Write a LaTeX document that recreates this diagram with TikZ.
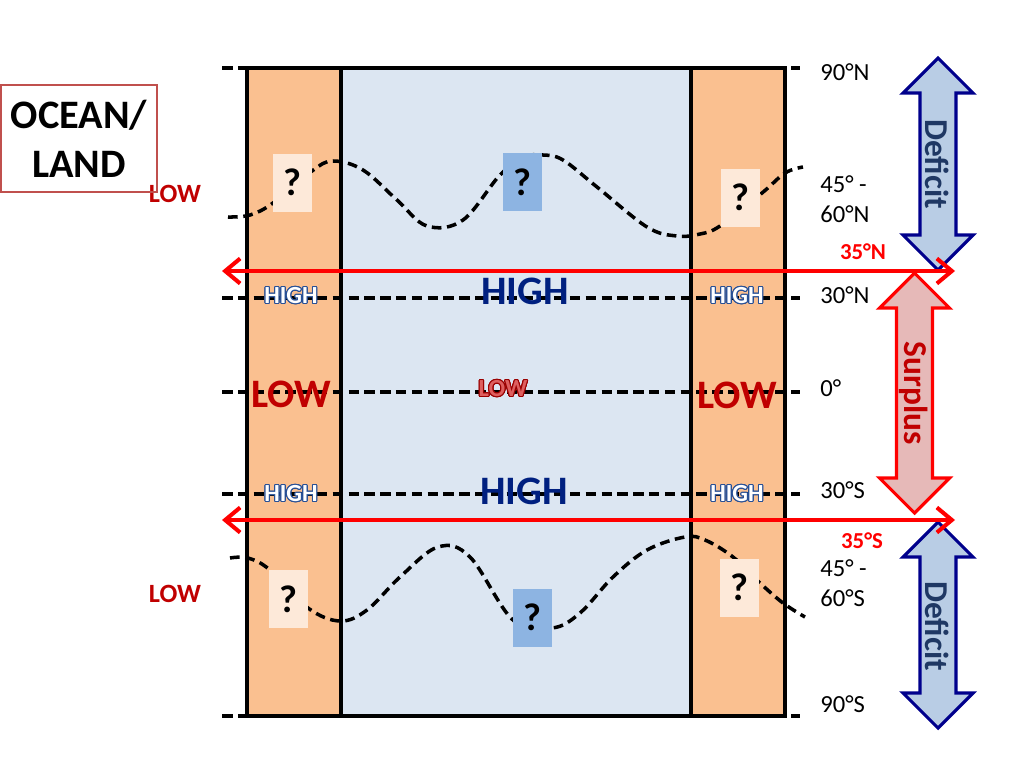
\documentclass[tikz,border=0pt]{standalone}
\usepackage{fontspec}
\setmainfont{Carlito}
\usepackage{contour}
\contourlength{0.6pt}
\usetikzlibrary{arrows.meta}

\definecolor{landfill}{RGB}{250,192,144}
\definecolor{oceanfill}{RGB}{220,230,242}
\definecolor{peachbox}{RGB}{253,233,217}
\definecolor{bluebox}{RGB}{141,180,226}
\definecolor{lowred}{RGB}{192,0,0}
\definecolor{lowpink}{RGB}{222,95,95}
\definecolor{highblue}{RGB}{0,32,128}
\definecolor{highrim}{RGB}{40,80,150}
\definecolor{deffill}{RGB}{185,205,229}
\definecolor{defline}{RGB}{0,0,140}
\definecolor{deftext}{RGB}{31,56,100}
\definecolor{surfill}{RGB}{230,185,184}
\definecolor{surline}{RGB}{255,0,0}
\definecolor{titleline}{RGB}{192,80,77}

\tikzset{
	latline/.style={black, line width=2.1pt, dash pattern=on 6pt off 3pt},
	wave/.style={black, line width=2pt, dash pattern=on 5.5pt off 3.2pt},
	qbox/.style={inner sep=0pt, minimum width=0.78cm, minimum height=1.16cm, font=\fontsize{22}{24}\selectfont\bfseries},
	latlabel/.style={anchor=west, inner sep=0pt, align=left, font=\fontsize{14}{17}\selectfont},
	zonearrow/.style={red, line width=2.3pt, <->, >={Straight Barb[length=3mm,width=5mm]}},
	budget/.style={line width=1.8pt, line join=miter},
	budgettext/.style={rotate=-90, inner sep=0pt, font=\fontsize{19}{21}\selectfont\bfseries},
	smallhigh/.style={text=white, inner sep=0pt, font=\fontsize{14}{16}\selectfont\bfseries},
	bighigh/.style={text=highblue, inner sep=0pt, font=\fontsize{23}{25}\selectfont\bfseries},
	biglow/.style={text=lowred, inner sep=0pt, font=\fontsize{23}{25}\selectfont\bfseries},
	sidelow/.style={text=lowred, inner sep=0pt, font=\fontsize{15}{17}\selectfont\bfseries},
}

\begin{document}
\begin{tikzpicture}[x=0.02cm, y=-0.02cm]
	\useasboundingbox (0,0) rectangle (1024,768);
	
	% land / ocean / land
	\fill[landfill] (247,68) rectangle (341,716);
	\fill[oceanfill] (341,68) rectangle (691,716);
	\fill[landfill] (691,68) rectangle (785,716);
	
	\foreach \yy in {68,298,392,494,716}{
		\draw[latline] (222,\yy) -- (800,\yy);
	}
	
	% polar front, north and south
	\draw[wave] plot[smooth, tension=0.6] coordinates {(228,217) (250,215) (273,203) (312,171) (333,161) (363,170) (397,200) (427,226) (463,220) (500,175) (525,157) (543,155) (563,160) (597,187) (647,227) (677,236) (700,234) (720,226) (762,193) (785,173) (803,167)};
	\draw[wave] plot[smooth, tension=0.6] coordinates {(230,558) (248,558) (270,570) (308,608) (340,621) (367,610) (400,577) (438,547) (470,557) (513,620) (552,628) (580,613) (613,577) (647,550) (685,537) (705,540) (733,557) (760,583) (783,603) (805,617)};
	
	\node[qbox, fill=peachbox] (qnw) at (292.5,182.5) {?};
	\node[qbox, fill=bluebox] (qnc) at (522.5,182) {?};
	\node[qbox, fill=peachbox] (qne) at (740.5,197.5) {?};
	\node[qbox, fill=peachbox] (qsw) at (288,599) {?};
	\node[qbox, fill=bluebox] (qsc) at (532,617.5) {?};
	\node[qbox, fill=peachbox] (qse) at (739.5,587.5) {?};
	
	\draw[line width=2pt] (247,68) rectangle (785,716);
	\draw[line width=2pt] (341,68) -- (341,716);
	\draw[line width=2pt] (691,68) -- (691,716);
	
	% pressure belts
	\node[smallhigh] (hnw) at (291,296) {\contour{highrim}{HIGH}};
	\node[bighigh] (hnc) at (525,291) {HIGH};
	\node[smallhigh] (hne) at (737,296) {\contour{highrim}{HIGH}};
	\node[biglow] (lw) at (291,394) {LOW};
	\node[text=lowpink, inner sep=0pt, font=\fontsize{14}{16}\selectfont\bfseries] (lc) at (503,389) {\contour{lowred!80!black}{LOW}};
	\node[biglow] (le) at (737,395) {LOW};
	\node[smallhigh] (hsw) at (291,494) {\contour{highrim}{HIGH}};
	\node[bighigh] (hsc) at (524,491) {HIGH};
	\node[smallhigh] (hse) at (737,494) {\contour{highrim}{HIGH}};
	\node[sidelow] (lnx) at (175,194) {LOW};
	\node[sidelow] (lsx) at (175,594) {LOW};
	
	% latitudes
	\node[latlabel] (l90n) at (820,72) {90°N};
	\node[latlabel] (l45n) at (820,199) {45° -\\60°N};
	\node[latlabel] (l30n) at (820,295) {30°N};
	\node[latlabel] (l0) at (820,388) {0°};
	\node[latlabel] (l30s) at (820,490) {30°S};
	\node[latlabel] (l45s) at (820,583) {45° -\\60°S};
	\node[latlabel] (l90s) at (820,704) {90°S};
	
	% energy budget arrows
	\foreach \cx/\ta/\tb/\fc/\dc in {938/58/270/deffill/defline, 914.5/273/513/surfill/surline, 938/522/728/deffill/defline}{
		\filldraw[budget, fill=\fc, draw=\dc] (\cx,\ta) -- (\cx+35,\ta+35) -- (\cx+18,\ta+35) -- (\cx+18,\tb-35) -- (\cx+35,\tb-35) -- (\cx,\tb) -- (\cx-35,\tb-35) -- (\cx-18,\tb-35) -- (\cx-18,\ta+35) -- (\cx-35,\ta+35) -- cycle;
	}
	\node[budgettext, text=deftext] (defn) at (937,164) {Deficit};
	\node[budgettext, text=lowred] (surp) at (914,393) {Surplus};
	\node[budgettext, text=deftext] (defs) at (937,626) {Deficit};
	
	% 35 degree boundaries
	\draw[zonearrow] (222,271) -- (955,271);
	\draw[zonearrow] (222,520) -- (955,520);
	\node[text=red, font=\fontsize{13}{15}\selectfont\bfseries, inner sep=0pt] (n35) at (863,252) {35°N};
	\node[text=red, font=\fontsize{13}{15}\selectfont\bfseries, inner sep=0pt] (s35) at (862,541) {35°S};
	
	\node[draw=titleline, line width=1.2pt, minimum width=3.12cm, minimum height=2.14cm, align=center, font=\fontsize{23}{28}\selectfont\bfseries] (title) at (79,138.5) {OCEAN/\\LAND};
	
\end{tikzpicture}
\end{document}
